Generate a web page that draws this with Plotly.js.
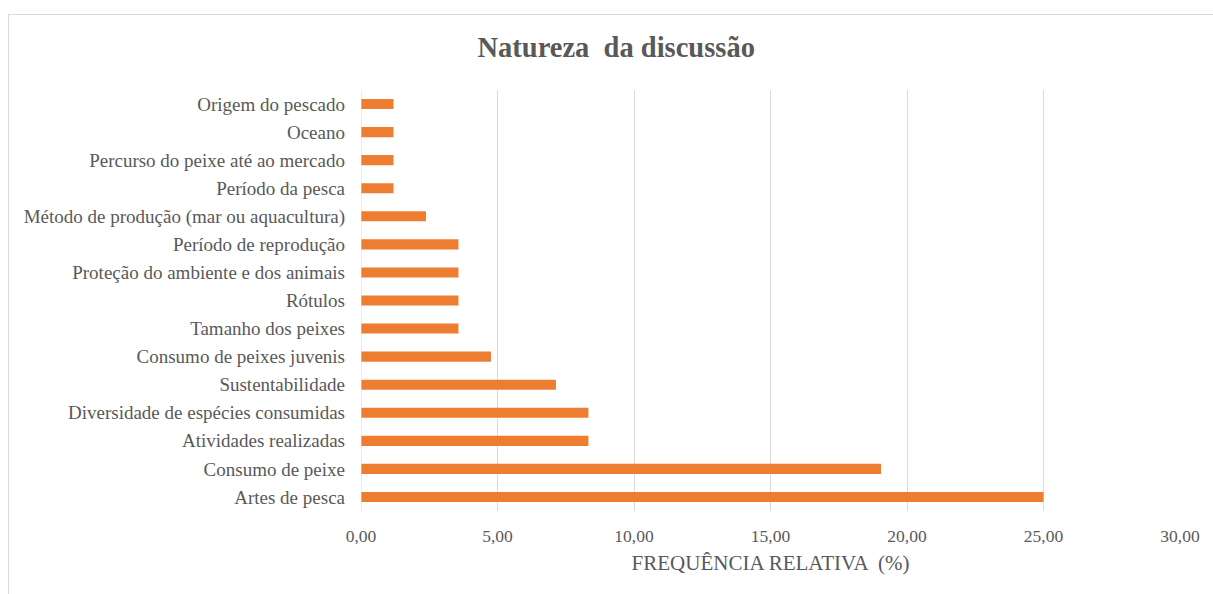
<!DOCTYPE html>
<html>
<head>
<meta charset="utf-8">
<script src="https://cdn.plot.ly/plotly-3.0.1.min.js"></script>
<style>
  html, body { margin: 0; padding: 0; background: #fff; }
  #frame { position: absolute; left: 8px; top: 14px; width: 1220px; height: 600px; border: 1px solid #d9d9d9; box-sizing: border-box; }
  #chart { position: absolute; left: 0; top: 0; width: 1213px; height: 594px; }
</style>
</head>
<body>
<div id="frame"></div>
<div id="chart"></div>
<script>
// Categories listed top to bottom as in the reference
const categories = [
  "Origem do pescado",
  "Oceano",
  "Percurso do peixe até ao mercado",
  "Período da pesca",
  "Método de produção (mar ou aquacultura)",
  "Período de reprodução",
  "Proteção do ambiente e dos animais",
  "Rótulos",
  "Tamanho dos peixes",
  "Consumo de peixes juvenis",
  "Sustentabilidade",
  "Diversidade de espécies consumidas",
  "Atividades realizadas",
  "Consumo de peixe",
  "Artes de pesca"
];
const frequencia = [1.19, 1.19, 1.19, 1.19, 2.38, 3.57, 3.57, 3.57, 3.57, 4.76, 7.14, 8.33, 8.33, 19.05, 25.00];
const xTickValues = [0, 5, 10, 15, 20, 25, 30];
const xTickLabels = ["0,00", "5,00", "10,00", "15,00", "20,00", "25,00", "30,00"];

const font = "'Liberation Serif', 'Times New Roman', serif";
const grey = "#595959";

const trace = {
  type: "bar",
  orientation: "h",
  x: frequencia,
  y: categories,
  width: 0.36,
  marker: { color: "#ED7D31" },
  hoverinfo: "x+y"
};

const layout = {
  width: 1213,
  height: 594,
  margin: { l: 361, r: 33, t: 90, b: 83 },
  paper_bgcolor: "rgba(0,0,0,0)",
  plot_bgcolor: "rgba(0,0,0,0)",
  showlegend: false,
  title: {
    text: "<b>Natureza  da discussão</b>",
    font: { family: font, size: 28.5, color: grey },
    x: 0.508, xref: "container", xanchor: "center",
    y: 0.921, yref: "container", yanchor: "middle"
  },
  xaxis: {
    range: [0, 30],
    tickvals: xTickValues,
    ticktext: xTickLabels,
    showgrid: true,
    gridcolor: "#d9d9d9",
    gridwidth: 1,
    zeroline: false,
    showline: false,
    ticks: "",
    ticklabelstandoff: 12,
    tickfont: { family: font, size: 17.5, color: grey },
    title: { text: "FREQUÊNCIA RELATIVA  (%)", font: { family: font, size: 21, color: grey }, standoff: 10 },
    fixedrange: true
  },
  yaxis: {
    type: "category",
    autorange: "reversed",
    showgrid: false,
    zeroline: false,
    showline: false,
    ticks: "",
    ticklabelstandoff: 15,
    tickfont: { family: font, size: 19, color: grey },
    fixedrange: true
  },
  shapes: [
    { type: "line", xref: "x", yref: "paper", x0: 0, x1: 0, y0: 0, y1: 1, line: { color: "#d9d9d9", width: 1 } }
  ]
};

Plotly.newPlot("chart", [trace], layout, { displayModeBar: false });
</script>
</body>
</html>
